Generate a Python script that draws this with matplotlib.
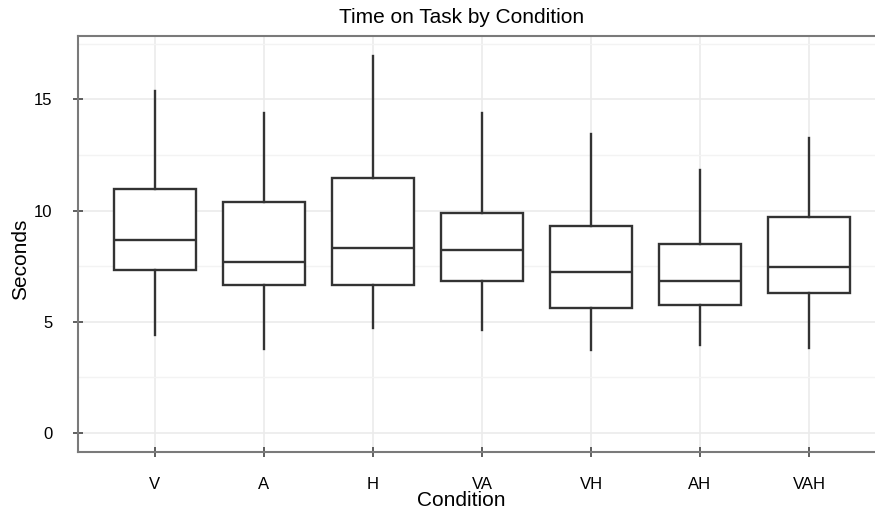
import numpy as np
import matplotlib.pyplot as plt
from matplotlib.ticker import MultipleLocator

plt.rcParams['font.family'] = ['Liberation Sans', 'DejaVu Sans']

# five-number summaries per condition
conditions = ['V', 'A', 'H', 'VA', 'VH', 'AH', 'VAH']
whis_lo = [4.39, 3.77, 4.74, 4.62, 3.75, 3.95, 3.83]
q1 = [7.31, 6.64, 6.64, 6.83, 5.62, 5.74, 6.31]
median = [8.70, 7.70, 8.31, 8.22, 7.25, 6.82, 7.48]
q3 = [10.99, 10.37, 11.45, 9.88, 9.31, 8.48, 9.73]
whis_hi = [15.38, 14.41, 16.95, 14.38, 13.44, 11.84, 13.26]

stats = []
for i, c in enumerate(conditions):
    stats.append({'label': c, 'whislo': whis_lo[i], 'q1': q1[i], 'med': median[i],
                  'q3': q3[i], 'whishi': whis_hi[i], 'fliers': []})

fig = plt.figure(figsize=(8.75, 5.14), dpi=100)
# axes runs a little past the right edge of the figure
ax = fig.add_axes([78 / 875, 1 - 452 / 514, 808 / 875, 416 / 514])

dark = '#333333'
lw = 1.7
ax.bxp(stats, positions=np.arange(len(conditions)), widths=0.75, showcaps=False,
       patch_artist=True,
       boxprops=dict(facecolor='white', edgecolor=dark, linewidth=lw),
       medianprops=dict(color=dark, linewidth=lw),
       whiskerprops=dict(color=dark, linewidth=lw))

ax.set_xlim(-0.706, len(conditions) - 1 + 0.706)
ax.set_ylim(-0.85, 17.85)
ax.yaxis.set_major_locator(MultipleLocator(5))
ax.yaxis.set_minor_locator(MultipleLocator(2.5))
ax.set_xticks(np.arange(len(conditions)))
ax.set_xticklabels(conditions)

ax.set_axisbelow(True)
ax.grid(which='major', color='#ebebeb', linewidth=1.2)
ax.grid(which='minor', axis='y', color='#f3f3f3', linewidth=1.0)
for s in ax.spines.values():
    s.set_color('#7a7a7a')
    s.set_linewidth(1.5)
ax.spines['right'].set_visible(False)

ax.tick_params(axis='both', which='major', direction='inout', length=7.6, width=1.2,
               color='#444444', labelsize=12, labelcolor='black')
ax.tick_params(axis='x', pad=14.0)
ax.tick_params(axis='y', pad=14.8)
ax.tick_params(which='minor', length=0)

fig.text(461.5 / 875, 1 - 17.5 / 514, 'Time on Task by Condition', ha='center', va='center', fontsize=15)
fig.text(461.5 / 875, 1 - 501 / 514, 'Condition', ha='center', va='center', fontsize=15)
fig.text(20.5 / 875, 1 - 259 / 514, 'Seconds', ha='center', va='center', rotation=90, fontsize=15)

fig.savefig('out.png', dpi=100)
